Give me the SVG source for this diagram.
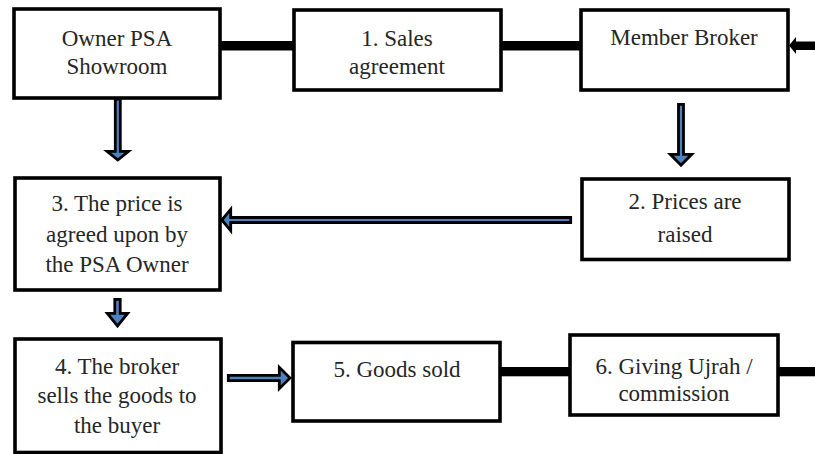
<svg xmlns="http://www.w3.org/2000/svg" width="815" height="454" viewBox="0 0 815 454">
<style>
.box{fill:#fff;stroke:#000;stroke-width:3.6}
.bar{fill:#000}
.blk{fill:#4f81bd;stroke:#000;stroke-width:2.8;stroke-linejoin:miter;stroke-miterlimit:10}
</style>
<rect width="815" height="454" fill="#fff"/>
<g id="connectors">
<rect class="bar" x="220" y="41" width="74" height="9.5"/>
<rect class="bar" x="501" y="41" width="80" height="9.5"/>
<rect class="bar" x="500" y="367" width="70" height="9.3"/>
<rect class="bar" x="778" y="367" width="37" height="9.3"/>
<polygon class="bar" points="815,41.5 796,41.5 796,37 789,45.5 796,54 796,50 815,50"/>
<polygon class="blk" points="115.3,99 120.3,99 120.3,151.3 128.5,151.3 117.8,160 107.1,151.3 115.3,151.3"/>
<polygon class="blk" points="678.5,104.3 683.5,104.3 683.5,154.3 691.7,154.3 681,165.2 670.3,154.3 678.5,154.3"/>
<polygon class="blk" points="114.8,299.3 120.2,299.3 120.2,313.3 127.7,313.3 117.5,326 107.3,313.3 114.8,313.3"/>
<polygon class="blk" points="570.7,217.5 570.7,222.5 230.7,222.5 230.7,230.7 221.8,220 230.7,209.3 230.7,217.5"/>
<polygon class="blk" points="228.3,375.3 228.3,380.7 279.3,380.7 279.3,388.7 290,378 279.3,367.3 279.3,375.3"/>
</g>
<g font-family="Liberation Serif, DejaVu Serif, serif" font-size="23" fill="#262626" text-anchor="middle">
<g id="owner">
<rect class="box" x="14" y="9" width="206" height="89"/>
<text x="117" y="46">Owner PSA</text>
<text x="117" y="74">Showroom</text>
</g>
<g id="sales">
<rect class="box" x="294" y="10" width="207" height="80"/>
<text x="397" y="46">1. Sales</text>
<text x="397" y="74">agreement</text>
</g>
<g id="broker">
<rect class="box" x="581" y="10" width="207" height="80"/>
<text x="684" y="45">Member Broker</text>
</g>
<g id="prices">
<rect class="box" x="582" y="179" width="207" height="80.5"/>
<text x="685" y="209">2. Prices are</text>
<text x="685" y="242">raised</text>
</g>
<g id="agreed">
<rect class="box" x="15" y="178" width="205" height="112"/>
<text x="117" y="211">3. The price is</text>
<text x="117" y="242">agreed upon by</text>
<text x="117" y="272">the PSA Owner</text>
</g>
<g id="sells">
<rect class="box" x="15" y="339" width="206" height="113.5"/>
<text x="117" y="374">4. The broker</text>
<text x="117" y="403">sells the goods to</text>
<text x="117" y="433">the buyer</text>
</g>
<g id="sold">
<rect class="box" x="293" y="342.5" width="207" height="78.5"/>
<text x="397" y="377">5. Goods sold</text>
</g>
<g id="ujrah">
<rect class="box" x="570" y="335" width="208" height="80"/>
<text x="674" y="374">6. Giving Ujrah /</text>
<text x="674" y="401">commission</text>
</g>
</g>
</svg>
